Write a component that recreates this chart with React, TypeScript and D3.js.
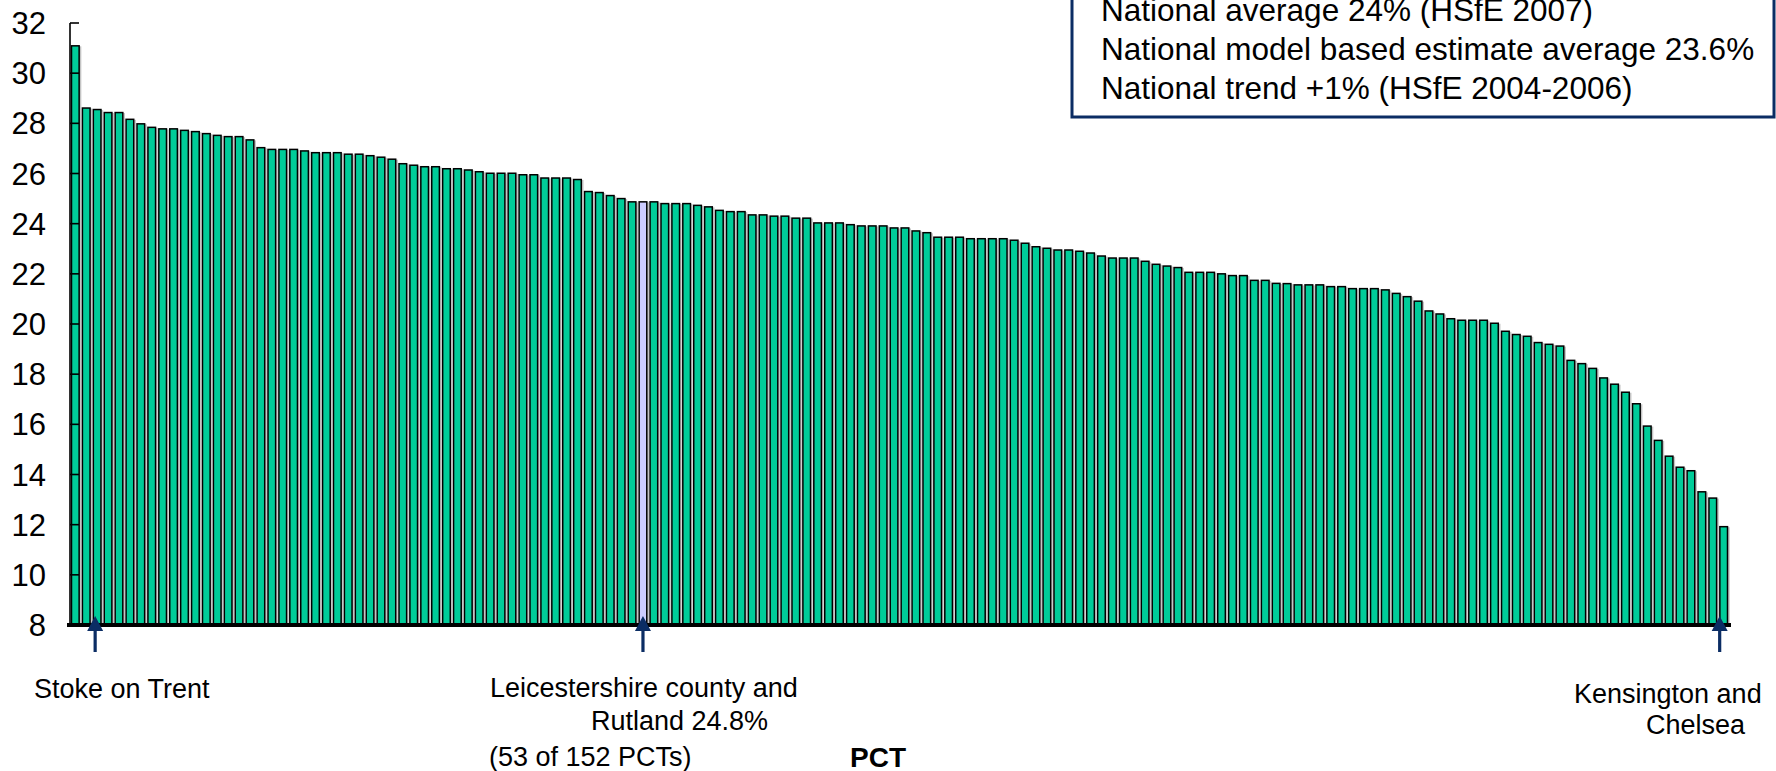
import React from "react";
import * as d3 from "d3";

// Percentages by PCT, sorted high to low
const pctValues: number[] = [
  31.09, 28.61, 28.55, 28.43, 28.43, 28.16, 27.98, 27.84, 27.78, 27.78,
  27.72, 27.67, 27.59, 27.52, 27.47, 27.47, 27.34, 27.03, 26.96, 26.96,
  26.96, 26.9, 26.83, 26.83, 26.83, 26.77, 26.77, 26.71, 26.65, 26.57,
  26.39, 26.33, 26.27, 26.27, 26.19, 26.19, 26.14, 26.07, 26.01, 26.01,
  26.01, 25.95, 25.95, 25.82, 25.82, 25.82, 25.76, 25.28, 25.24, 25.12,
  25.0, 24.87, 24.87, 24.87, 24.8, 24.8, 24.8, 24.73, 24.67, 24.53,
  24.48, 24.48, 24.35, 24.35, 24.3, 24.3, 24.22, 24.22, 24.03, 24.03,
  24.03, 23.96, 23.91, 23.91, 23.91, 23.83, 23.83, 23.71, 23.64, 23.46,
  23.46, 23.46, 23.4, 23.4, 23.4, 23.4, 23.34, 23.22, 23.08, 23.02,
  22.95, 22.95, 22.9, 22.83, 22.71, 22.63, 22.63, 22.63, 22.5, 22.38,
  22.31, 22.25, 22.06, 22.06, 22.06, 22.0, 21.93, 21.93, 21.74, 21.74,
  21.62, 21.61, 21.56, 21.56, 21.56, 21.49, 21.49, 21.41, 21.41, 21.41,
  21.36, 21.22, 21.09, 20.91, 20.52, 20.4, 20.21, 20.15, 20.15, 20.15,
  20.03, 19.71, 19.58, 19.51, 19.26, 19.19, 19.12, 18.55, 18.42, 18.23,
  17.85, 17.6, 17.28, 16.82, 15.93, 15.36, 14.73, 14.29, 14.15, 13.31,
  13.06, 11.92,
];
const highlightIndex = 52; // Leicestershire county and Rutland (53 of 152)
const yTicks: number[] = [8, 10, 12, 14, 16, 18, 20, 22, 24, 26, 28, 30, 32];
const legendLines: string[] = [
  "National average 24% (HSfE 2007)",
  "National model based estimate average 23.6%",
  "National trend +1% (HSfE 2004-2006)",
];
const xAxisTitle = "PCT";
const arrowIndices: number[] = [2, 52, 151];
const arrowOffsets: number[] = [-2, 0, -4];

const FONT = "'Liberation Sans', Arial, Helvetica, sans-serif";
const BAR_FILL = "#00CC99";
const HIGHLIGHT_FILL = "#CCCCFF";
const NAVY = "#0B2D64";

export default function App() {
  const width = 1776;
  const height = 771;

  const x = d3
    .scaleBand<number>()
    .domain(d3.range(pctValues.length))
    .range([71.5, 1727.5])
    .paddingInner(0.3)
    .paddingOuter(0);
  const y = d3.scaleLinear().domain([8, 32]).range([625, 23]);
  const bw = x.bandwidth();

  const arrowPath = (cx: number) => {
    const tip = 616;
    const headBase = 631;
    return `M${cx},${tip} L${cx - 8},${headBase} L${cx - 1.6},${headBase} L${cx - 1.6},652 L${cx + 1.6},652 L${cx + 1.6},${headBase} L${cx + 8},${headBase} Z`;
  };

  return (
    <svg
      width={width}
      height={height}
      style={{ position: "absolute", left: 0, top: 0, background: "#fff" }}
      fontFamily={FONT}
    >
      <rect x={0} y={0} width={width} height={height} fill="#fff" />

      {/* legend box */}
      <rect x={1072} y={-20} width={702} height={137} fill="#fff" stroke={NAVY} strokeWidth={3} />
      {legendLines.map((t, i) => (
        <text key={t} x={1101} y={21 + i * 39} fontSize={31.5} fill="#000">
          {t}
        </text>
      ))}

      {/* bar shadows */}
      {pctValues.map((v, i) => (
        <rect
          key={"s" + i}
          x={(x(i) as number) + 2.2}
          y={y(v) + 0.5}
          width={bw}
          height={y(8) - y(v)}
          fill="#c4c4c4"
        />
      ))}
      {/* bars */}
      {pctValues.map((v, i) => (
        <rect
          key={"b" + i}
          x={x(i) as number}
          y={y(v)}
          width={bw}
          height={y(8) - y(v)}
          fill={i === highlightIndex ? HIGHLIGHT_FILL : BAR_FILL}
          stroke="#000"
          strokeWidth={1.5}
        />
      ))}

      {/* y axis */}
      <line x1={70} x2={70} y1={y(32)} y2={y(8)} stroke="#000" strokeWidth={1.6} />
      {yTicks.map((t) => (
        <g key={t}>
          <line x1={70} x2={79} y1={y(t)} y2={y(t)} stroke="#000" strokeWidth={1.6} />
          <text x={46} y={y(t)} dy="0.36em" textAnchor="end" fontSize={31} fill="#000">
            {t}
          </text>
        </g>
      ))}

      {/* x axis baseline */}
      <line x1={67} x2={1731} y1={y(8)} y2={y(8)} stroke="#000" strokeWidth={4} />

      {/* arrows */}
      {arrowIndices.map((idx, k) => (
        <path
          key={"a" + idx}
          d={arrowPath((x(idx) as number) + bw / 2 + arrowOffsets[k])}
          fill={NAVY}
        />
      ))}

      {/* annotation labels */}
      <g fontSize={27} fill="#000">
        <text x={34} y={698}>Stoke on Trent</text>
        <text x={490} y={697}>Leicestershire county and</text>
        <text x={591} y={730}>Rutland 24.8%</text>
        <text x={489} y={766}>(53 of 152 PCTs)</text>
        <text x={1574} y={703}>Kensington and</text>
        <text x={1646} y={734}>Chelsea</text>
      </g>
      <text x={850} y={767} fontSize={28} fontWeight="bold" fill="#000">
        {xAxisTitle}
      </text>
    </svg>
  );
}
